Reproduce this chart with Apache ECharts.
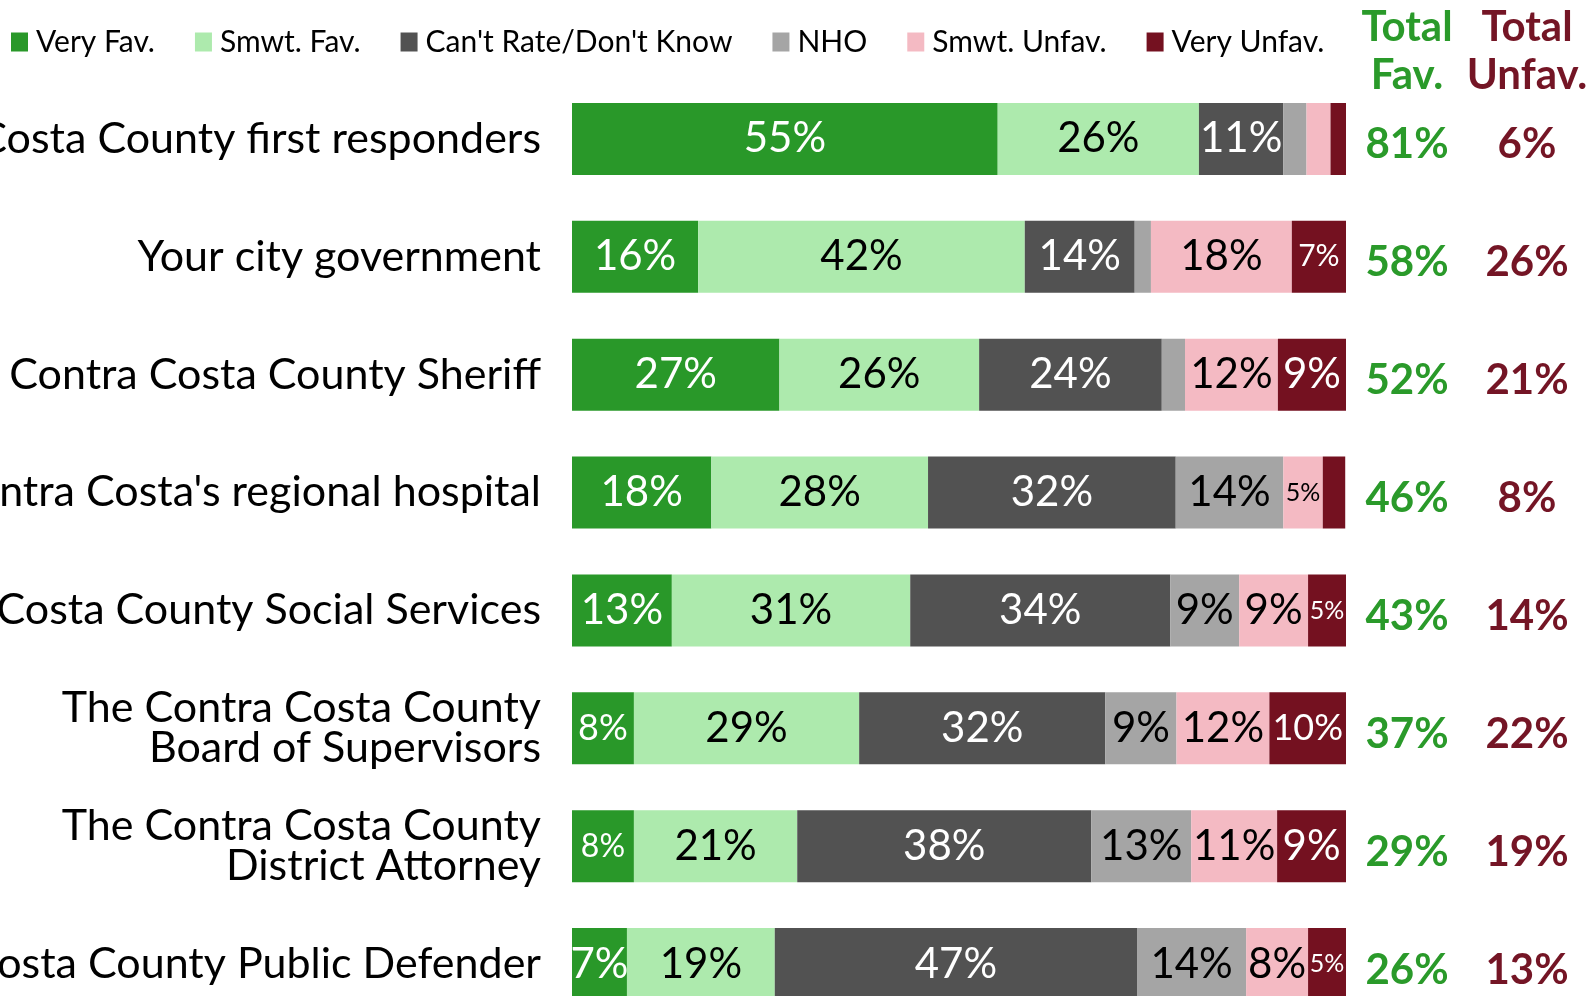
<!DOCTYPE html>
<html>
<head>
    <meta charset="UTF-8"/>
    <script type="text/javascript" src="https://cdn.jsdelivr.net/npm/echarts@6/dist/echarts.min.js"></script>
    <style>
        html, body { margin: 0; padding: 0; background: #fff; }
        #main { width: 1596px; height: 996px; }
    </style>
</head>
<body>
<div id="main"></div>
<script type="text/javascript">
    // rows, top to bottom
    var categories = [
        'Contra Costa County first responders',
        'Your city government',
        'Contra Costa County Sheriff',
        "Contra Costa's regional hospital",
        'Contra Costa County Social Services',
        'The Contra Costa County\nBoard of Supervisors',
        'The Contra Costa County\nDistrict Attorney',
        'Contra Costa County Public Defender'
    ];
    var seriesNames = ['Very Fav.', 'Smwt. Fav.', "Can't Rate/Don't Know", 'NHO', 'Smwt. Unfav.', 'Very Unfav.'];

    // values (labels show them rounded)
    var veryFav   = [55.0, 16.3, 26.8, 18.0, 12.9, 8.0, 8.0, 7.1];
    var smwtFav   = [26.0, 42.2, 25.8, 28.0, 30.8, 29.1, 21.1, 19.1];
    var cantRate  = [10.9, 14.2, 23.6, 32.0, 33.6, 31.8, 38.0, 46.8];
    var nho       = [3.0, 2.1, 3.0, 13.9, 8.9, 9.2, 12.9, 14.1];
    var smwtUnfav = [3.1, 18.2, 12.0, 5.1, 8.9, 12.0, 11.1, 8.0];
    var veryUnfav = [2.0, 7.0, 8.8, 2.9, 4.9, 9.9, 8.9, 4.9];

    var totalFav   = [81, 58, 52, 46, 43, 37, 29, 26];
    var totalUnfav = [6, 26, 21, 8, 14, 22, 19, 13];

    var colors = ['#299829', '#adeaad', '#525252', '#a5a5a5', '#f4bac3', '#741120'];
    var labelColors = ['#fff', '#000', '#fff', '#000', '#000', '#fff'];
    var FONT = 'Lato, "Noto Sans", sans-serif';
    var GREEN = '#2a9a2a', RED = '#741525';

    // a few squeezed labels in the original are smaller
    var smallLabels = { '1-5': 30, '5-0': 36, '6-0': 32, '5-5': 36 };

    function makeData(values, s) {
        return values.map(function (v, i) {
            var size = smallLabels[i + '-' + s] || (Math.round(v) <= 5 ? 25 : 42);
            return {
                value: v,
                label: { show: v >= 4, fontSize: size }
            };
        });
    }

    var allValues = [veryFav, smwtFav, cantRate, nho, smwtUnfav, veryUnfav];
    var series = allValues.map(function (vals, s) {
        return {
            name: seriesNames[s],
            type: 'bar',
            stack: 'all',
            barWidth: '61%',
            itemStyle: { color: colors[s] },
            label: {
                position: 'inside',
                color: labelColors[s],
                fontFamily: FONT,
                fontSize: 42,
                padding: [12, 0, 0, 0],
                formatter: function (p) { return Math.round(p.value) + '%'; }
            },
            data: makeData(vals, s)
        };
    });

    var option = {
        animation: false,
        color: colors,
        legend: {
            left: 6,
            top: 22,
            itemWidth: 17,
            itemHeight: 19,
            itemGap: 40,
            icon: 'rect',
            textStyle: { fontFamily: FONT, fontSize: 30, color: '#000', padding: [0, 0, 0, 3] },
            data: seriesNames
        },
        grid: { left: 572, right: 250, top: 80, height: 943, outerBoundsMode: 'none', containLabel: false },
        xAxis: { type: 'value', min: 0, max: 100, show: false },
        yAxis: [{
            type: 'category',
            inverse: true,
            data: categories,
            axisLine: { show: false },
            axisTick: { show: false },
            axisLabel: {
                margin: 31,
                fontFamily: FONT,
                fontSize: 43,
                lineHeight: 40,
                color: '#000',
                align: 'right',
                padding: [0, 0, 12, 0]
            }
        }, {
            type: 'category',
            inverse: true,
            position: 'right',
            data: categories,
            axisLine: { show: false },
            axisTick: { show: false },
            axisLabel: {
                margin: 0,
                align: 'left',
                formatter: function (v, i) {
                    return '{f|' + totalFav[i] + '%}{u|' + totalUnfav[i] + '%}';
                },
                rich: {
                    f: { width: 122, align: 'center', color: GREEN, fontFamily: FONT, fontWeight: 'bold', fontSize: 42, padding: [12, 0, 0, 0] },
                    u: { width: 118, align: 'center', color: RED, fontFamily: FONT, fontWeight: 'bold', fontSize: 42, padding: [12, 0, 0, 0] }
                }
            }
        }],
        graphic: [{
            type: 'text',
            style: {
                x: 1407, y: 51, text: 'Total\nFav.', fill: GREEN, align: 'center', verticalAlign: 'middle',
                font: 'bold 42px ' + FONT, lineHeight: 48
            }
        }, {
            type: 'text',
            style: {
                x: 1527, y: 51, text: 'Total\nUnfav.', fill: RED, align: 'center', verticalAlign: 'middle',
                font: 'bold 42px ' + FONT, lineHeight: 48
            }
        }],
        series: series
    };

    var myChart = echarts.init(document.getElementById('main'));
    myChart.setOption(option);
</script>
</body>
</html>
